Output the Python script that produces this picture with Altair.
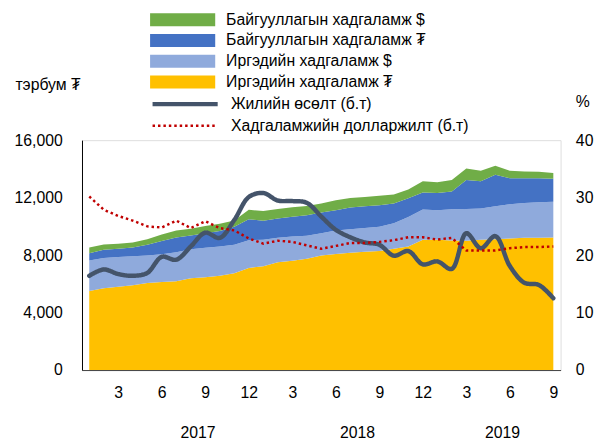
import altair as alt
import pandas as pd

FONT = "Liberation Sans, Arial, DejaVu Sans"
FS = 16

months = list(range(1, 34))
irgen_mnt = [5500, 5700, 5790, 5905, 6065, 6135, 6180, 6385, 6455, 6570, 6730, 7100, 7230, 7505, 7600, 7740, 7965,
             8080, 8170, 8240, 8285, 8445, 8600, 9065, 9065, 9015, 8995, 9065, 9110, 9155, 9200, 9200, 9225]
irgen_usd = [2120, 2105, 2085, 2015, 1900, 1925, 2015, 2015, 2060, 2035, 1990, 1940, 1835, 1695, 1690, 1600, 1560,
             1625, 1630, 1650, 1695, 1765, 2050, 2105, 2060, 2180, 2220, 2175, 2290, 2380, 2430, 2475, 2495]
baig_mnt = [505, 575, 570, 615, 755, 915, 1030, 960, 1010, 1075, 1260, 1460, 1325, 1355, 1375, 1440, 1440,
            1420, 1510, 1510, 1490, 1375, 1300, 1190, 1190, 1235, 2015, 1900, 2200, 1810, 1715, 1670, 1600]
baig_usd = [410, 360, 345, 345, 390, 455, 480, 480, 500, 505, 435, 650, 685, 660, 665, 640, 620,
            685, 660, 640, 665, 640, 610, 780, 755, 800, 800, 730, 615, 525, 480, 455, 390]
growth = [16.4, 17.5, 16.7, 16.4, 16.9, 19.7, 19.2, 21.5, 23.9, 23.0, 26.1, 30.1, 30.8, 29.5, 29.4, 29.1, 26.7,
          24.4, 23.1, 22.2, 21.8, 19.9, 20.7, 18.4, 18.9, 17.6, 23.8, 21.2, 23.3, 18.1, 15.2, 14.8, 12.5]
dollar = [30.2, 27.9, 26.8, 26.0, 25.0, 24.8, 26.0, 24.7, 25.9, 24.7, 24.3, 22.9, 22.0, 22.5, 22.3, 21.7, 21.1,
          21.6, 22.1, 22.1, 22.3, 22.6, 23.1, 23.1, 22.7, 23.0, 20.8, 20.8, 20.8, 21.2, 21.4, 21.4, 21.5]

tick_months = [3, 6, 9, 12, 15, 18, 21, 24, 27, 30, 33]
years = ["2017", "2018", "2019"]
year_pos = [8.5, 19.5, 29.5]

series_names = ["Байгууллагын хадгаламж $", "Байгууллагын хадгаламж ₮",
                "Иргэдийн хадгаламж $", "Иргэдийн хадгаламж ₮"]
series_colors = ["#70AD47", "#4472C4", "#8FAADC", "#FFC000"]
line_names = ["Жилийн өсөлт (б.т)", "Хадгаламжийн долларжилт (б.т)"]
line_colors = ["#44546A", "#C00000"]

rows = []
for name, vals, order in [(series_names[3], irgen_mnt, 1), (series_names[2], irgen_usd, 2),
                          (series_names[1], baig_mnt, 3), (series_names[0], baig_usd, 4)]:
    for m, v in zip(months, vals):
        rows.append({"m": m, "series": name, "value": v, "ord": order})
area_df = pd.DataFrame(rows)

growth_df = pd.DataFrame({"m": months, "value": growth, "name": line_names[0]})
dollar_df = pd.DataFrame({"m": months, "value": dollar, "name": line_names[1]})
year_df = pd.DataFrame({"m": year_pos, "label": years})

x_enc = alt.X("m:Q", scale=alt.Scale(domain=[0.5, 33.5], nice=False, zero=False),
              axis=alt.Axis(values=tick_months, labelExpr="((datum.value - 1) % 12) + 1", title=None,
                            grid=False, ticks=False, labelPadding=15, labelFontSize=FS, labelFont=FONT,
                            labelColor="#000000", domainColor="#404040", labelFlush=False))

legend_common = dict(title=None, orient="none", symbolSize=484, labelFontSize=FS, labelFont=FONT,
                     labelColor="#000000", labelOffset=33, padding=0, offset=0, labelLimit=400)

area = alt.Chart(area_df).mark_area(interpolate="linear").encode(
    x=x_enc,
    y=alt.Y("value:Q", stack="zero", scale=alt.Scale(domain=[0, 16000], nice=False),
            axis=alt.Axis(values=[0, 4000, 8000, 12000, 16000], format=",d", grid=False, ticks=False,
                          labelPadding=20, labelFontSize=FS, labelFont=FONT, labelColor="#000000",
                          domainColor="#000000", title="тэрбум ₮", titleAngle=0, titleAlign="left",
                          titleBaseline="middle", titleX=-68, titleY=-56, titleFont=FONT,
                          titleFontSize=FS, titleFontWeight="normal", titleColor="#000000")),
    fill=alt.Fill("series:N", scale=alt.Scale(domain=series_names, range=series_colors),
                  legend=alt.Legend(legendX=91, legendY=-133, symbolType="M-3,-0.6H3V0.6H-3Z",
                                    symbolStrokeWidth=0, symbolOpacity=1, rowPadding=2, **legend_common)),
    order=alt.Order("ord:Q", sort="ascending"),
)

line_stroke = alt.Stroke("name:N", scale=alt.Scale(domain=line_names, range=line_colors),
                         legend=alt.Legend(legendX=91, legendY=-50, symbolType="M-3,0H3",
                                           symbolFillColor="transparent", rowPadding=-1, **legend_common))
line_dash = alt.StrokeDash("name:N", scale=alt.Scale(domain=line_names, range=[[1, 0], [2.5, 3]]))
line_width = alt.StrokeWidth("name:N", scale=alt.Scale(domain=line_names, range=[4.5, 2.5]))
y_right = alt.Y("value:Q", scale=alt.Scale(domain=[0, 40], nice=False),
                axis=alt.Axis(orient="right", values=[0, 10, 20, 30, 40], grid=False, ticks=False, domain=False,
                              labelPadding=15, labelFontSize=FS, labelFont=FONT, labelColor="#000000",
                              title="%", titleAngle=0, titleAlign="center", titleBaseline="middle",
                              titleX=22, titleY=-39, titleFont=FONT, titleFontSize=FS,
                              titleFontWeight="normal", titleColor="#000000"))

growth_line = alt.Chart(growth_df).mark_line(interpolate="catmull-rom", strokeCap="round").encode(
    x=alt.X("m:Q"), y=y_right, stroke=line_stroke, strokeDash=line_dash, strokeWidth=line_width)
dollar_line = alt.Chart(dollar_df).mark_line(interpolate="linear", strokeCap="butt").encode(
    x=alt.X("m:Q"), y=y_right, stroke=line_stroke, strokeDash=line_dash, strokeWidth=line_width)

lines = alt.layer(growth_line, dollar_line)

year_text = alt.Chart(year_df).mark_text(fontSize=FS, font=FONT, color="#000000", baseline="middle").encode(
    x=alt.X("m:Q"), y=alt.value(297), text="label:N")

chart = alt.layer(area, lines, year_text).resolve_scale(y="independent").properties(
    width=485, height=233,
    autosize=alt.AutoSizeParams(type="none"),
    padding={"left": 75, "top": 131, "right": 43, "bottom": 72},
).configure_view(stroke="#808080", strokeWidth=1).configure(background="white")

chart.save("out.html", embed_options={"renderer": "svg", "actions": False})
